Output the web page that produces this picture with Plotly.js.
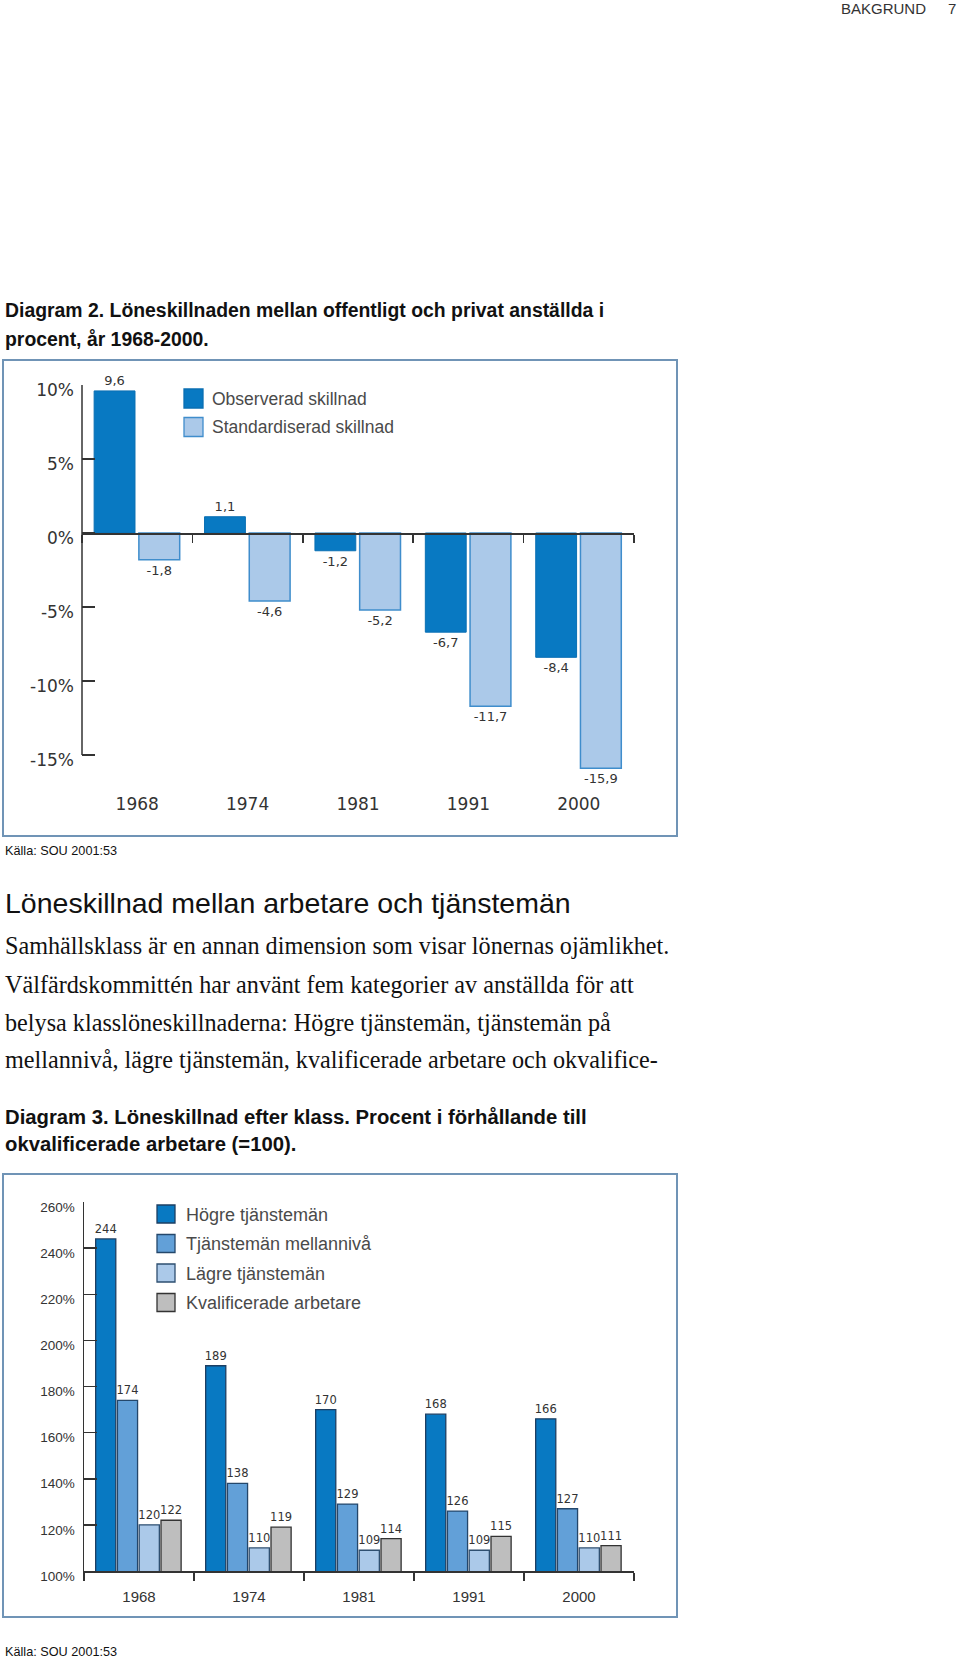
<!DOCTYPE html>
<html><head><meta charset="utf-8">
<script src="https://cdn.plot.ly/plotly-3.0.1.min.js"></script>
<style>html,body{margin:0;padding:0;background:#fff}</style>
</head><body><div id="chart" style="width:960px;height:1660px"></div>
<script>
// ---- data ----
const years = ['1968', '1974', '1981', '1991', '2000'];
const observerad = [9.6, 1.1, -1.2, -6.7, -8.4];
const standardiserad = [-1.8, -4.6, -5.2, -11.7, -15.9];
const diffTickVals = [10, 5, 0, -5, -10, -15];
const diffTickText = ['10%', '5%', '0%', '-5%', '-10%', '-15%'];
const diffNames = ['Observerad skillnad', 'Standardiserad skillnad'];

const hogre = [244, 189, 170, 168, 166];
const mellan = [174, 138, 129, 126, 127];
const lagre = [120, 110, 109, 109, 110];
const kval = [122, 119, 114, 115, 111];
const klassTickVals = [100, 120, 140, 160, 180, 200, 220, 240, 260];
const klassTickText = ['100%', '120%', '140%', '160%', '180%', '200%', '220%', '240%', '260%'];
const klassNames = ['Högre tjänstemän', 'Tjänstemän mellannivå', 'Lägre tjänstemän', 'Kvalificerade arbetare'];

const pageHeader = ['BAKGRUND', '7'];
const title2 = ['Diagram 2. Löneskillnaden mellan offentligt och privat anställda i', 'procent, år 1968-2000.'];
const source = 'Källa: SOU 2001:53';
const heading = 'Löneskillnad mellan arbetare och tjänstemän';
const bodyLines = [
  'Samhällsklass är en annan dimension som visar lönernas ojämlikhet.',
  'Välfärdskommittén har använt fem kategorier av anställda för att',
  'belysa klasslöneskillnaderna: Högre tjänstemän, tjänstemän på',
  'mellannivå, lägre tjänstemän, kvalificerade arbetare och okvalifice-'
];
const title3 = ['Diagram 3. Löneskillnad efter klass. Procent i förhållande till', 'okvalificerade arbetare (=100).'];

// ---- helpers ----
const W = 960, H = 1660;
const X = p => p / W;
const Y = p => 1 - p / H;
const fmt = v => String(v).replace('.', ',');

const BLUE = '#0879c2', LIGHT = '#abc9e9', MID = '#62a0d8', GREY = '#bebebe';
const SANS = 'Liberation Sans, Arial, sans-serif';
const WIDE = 'DejaVu Sans, Verdana, sans-serif';
const SERIF = 'Liberation Serif, Times New Roman, serif';

// chart 1 geometry (pixels): 10% at y0, -15% at y1; range extended below for the deepest bar
const c1 = {x0: 82, x1: 634, y0: 385, y1: 755};
const diffMin = -17, diffMax = 10;
const pxPerUnit1 = (c1.y1 - c1.y0) / (diffTickVals[0] - diffTickVals[diffTickVals.length - 1]);
const c1bottom = c1.y0 + (diffMax - diffMin) * pxPerUnit1;
const c1dom = [Y(c1bottom), Y(c1.y0)];
const zeroPos = c1dom[0] + (0 - diffMin) / (diffMax - diffMin) * (c1dom[1] - c1dom[0]);
// chart 2 geometry
const c2 = {x0: 84, x1: 634, y0: 1202, y1: 1571};
const c2dom = [Y(c2.y1), Y(c2.y0)];

const traces = [
  {type: 'bar', x: years, y: observerad, xaxis: 'x', yaxis: 'y', name: diffNames[0],
   offset: -0.39, width: 0.37, marker: {color: BLUE, line: {color: '#0a6fb3', width: 1}},
   text: observerad.map(fmt), textposition: 'outside', cliponaxis: false, constraintext: 'none',
   textfont: {family: WIDE, size: 13, color: '#333'}, showlegend: false},
  {type: 'bar', x: years, y: standardiserad, xaxis: 'x', yaxis: 'y', name: diffNames[1],
   offset: 0.015, width: 0.37, marker: {color: LIGHT, line: {color: '#3f8dcc', width: 1.5}},
   text: standardiserad.map(fmt), textposition: 'outside', cliponaxis: false, constraintext: 'none',
   textfont: {family: WIDE, size: 13, color: '#333'}, showlegend: false}
];
const klassSeries = [hogre, mellan, lagre, kval];
const klassColors = [BLUE, MID, LIGHT, GREY];
const klassLines = ['#1d3f63', '#24476b', '#2e4f70', '#333333'];
klassSeries.forEach((s, i) => {
  traces.push({type: 'bar', x: years, y: s, xaxis: 'x2', yaxis: 'y2', name: klassNames[i],
    offset: -0.394 + i * 0.198, width: 0.183,
    marker: {color: klassColors[i], line: {color: klassLines[i], width: 1.3}},
    text: s.map(String), textposition: 'outside', cliponaxis: false, constraintext: 'none',
    textfont: {family: WIDE, size: 11.5, color: '#333'}, showlegend: false});
});

const ann = [];
const txt = (text, x, y, font, opts = {}) => ann.push(Object.assign({
  text, x: X(x), y: Y(y), xref: 'paper', yref: 'paper', xanchor: 'left', yanchor: 'middle',
  showarrow: false, font}, opts));

const hdrFont = {family: SANS, size: 15, color: '#333'};
txt(pageHeader[0], 928, 8, hdrFont, {xanchor: 'right'});
txt(pageHeader[1], 958, 8, hdrFont, {xanchor: 'right'});
const t2Font = {family: SANS, size: 19.4, color: '#111'};
txt('<b>' + title2[0] + '</b>', 3, 310, t2Font);
txt('<b>' + title2[1] + '</b>', 3, 339, t2Font);
const srcFont = {family: SANS, size: 12.7, color: '#111'};
txt(source, 3, 851, srcFont);
txt(heading, 3, 903, {family: SANS, size: 28.5, color: '#111'});
const bodyY = [945, 984, 1022, 1059];
bodyLines.forEach((l, i) => txt(l, 3, bodyY[i], {family: SERIF, size: 24.2, color: '#111'}));
const t3Font = {family: SANS, size: 20.3, color: '#111'};
txt('<b>' + title3[0] + '</b>', 3, 1117, t3Font);
txt('<b>' + title3[1] + '</b>', 3, 1144, t3Font);
txt(source, 3, 1652, srcFont);

const shapes = [
  {type: 'rect', xref: 'paper', yref: 'paper', x0: X(3), x1: X(677), y0: Y(836), y1: Y(360),
   line: {color: '#7094b6', width: 2}},
  {type: 'rect', xref: 'paper', yref: 'paper', x0: X(3), x1: X(677), y0: Y(1617), y1: Y(1174),
   line: {color: '#7094b6', width: 2}},
  // chart 1 value axis line, from the lowest to the highest tick
  {type: 'line', xref: 'paper', yref: 'y', x0: X(c1.x0), x1: X(c1.x0),
   y0: diffTickVals[diffTickVals.length - 1], y1: diffTickVals[0], line: {color: '#333', width: 1.5}}
];
// custom legends
diffNames.forEach((n, i) => {
  const top = 389 + i * 28.5;
  shapes.push({type: 'rect', xref: 'paper', yref: 'paper', x0: X(184), x1: X(203), y0: Y(top + 19), y1: Y(top),
    fillcolor: [BLUE, LIGHT][i], line: {color: ['#0a6fb3', '#3f8dcc'][i], width: 1.3}});
  txt(n, 210, top + 9.5, {family: SANS, size: 17.5, color: '#4a4a4a'});
});
klassNames.forEach((n, i) => {
  const top = 1205 + i * 29.5;
  shapes.push({type: 'rect', xref: 'paper', yref: 'paper', x0: X(157), x1: X(175), y0: Y(top + 18), y1: Y(top),
    fillcolor: klassColors[i], line: {color: klassLines[i], width: 1.3}});
  txt(n, 184, top + 9.5, {family: SANS, size: 18, color: '#4a4a4a'});
});

const axisCommon = {showgrid: false, zeroline: false, showline: true, linecolor: '#333', linewidth: 1.5,
  tickcolor: '#333', tickwidth: 1.5};

const layout = {
  width: W, height: H, margin: {l: 0, r: 0, t: 0, b: 0},
  paper_bgcolor: '#fff', plot_bgcolor: 'rgba(0,0,0,0)', barmode: 'overlay',
  showlegend: false,
  xaxis: Object.assign({}, axisCommon, {domain: [X(c1.x0), X(c1.x1)], anchor: 'free', position: zeroPos,
    type: 'category', categoryorder: 'array', categoryarray: years, range: [-0.5, 4.5],
    tickson: 'boundaries', ticks: 'outside', ticklen: 8, ticklabelstandoff: 255,
    tickfont: {family: WIDE, size: 17, color: '#333'}}),
  yaxis: Object.assign({}, axisCommon, {domain: c1dom, anchor: 'x', range: [diffMin, diffMax],
    showline: false,
    tickmode: 'array', tickvals: diffTickVals, ticktext: diffTickText,
    ticks: 'inside', ticklen: 13, ticklabelshift: 5, ticklabelstandoff: 7,
    tickfont: {family: WIDE, size: 17, color: '#333'}}),
  xaxis2: Object.assign({}, axisCommon, {domain: [X(c2.x0), X(c2.x1)], anchor: 'y2',
    type: 'category', categoryorder: 'array', categoryarray: years, range: [-0.5, 4.5],
    tickson: 'boundaries', ticks: 'outside', ticklen: 8, ticklabelstandoff: 11,
    tickfont: {family: SANS, size: 15, color: '#333'}}),
  yaxis2: Object.assign({}, axisCommon, {domain: c2dom, anchor: 'x2', range: [100, 260],
    tickmode: 'array', tickvals: klassTickVals, ticktext: klassTickText,
    ticks: 'inside', ticklen: 13, ticklabelshift: 5, ticklabelstandoff: 5,
    tickfont: {family: SANS, size: 13.5, color: '#333'}}),
  annotations: ann, shapes: shapes
};

Plotly.newPlot('chart', traces, layout, {staticPlot: true, displayModeBar: false});
</script></body></html>
